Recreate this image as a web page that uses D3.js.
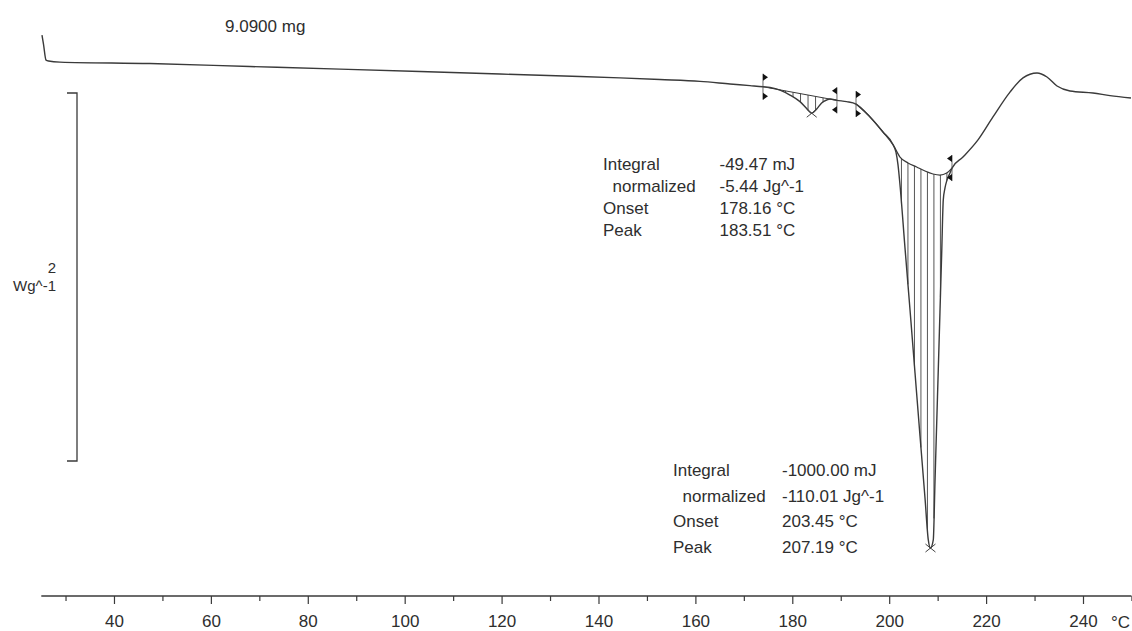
<!DOCTYPE html>
<html><head><meta charset="utf-8">
<script src="https://cdn.jsdelivr.net/npm/d3@7"></script>
<style>
body{margin:0;background:#fff}
svg{display:block;background:#fff}
text{font-family:"Liberation Sans",Arial,sans-serif;fill:#2e2e2e}
</style>
</head><body>
<svg id="chart" width="1132" height="631"></svg>
<script>
// ---- data (temperature in °C, heat flow in W/g, endo down) ----
const tempC = [25.14,25.45,25.98,26.50,28.85,47.43,68.07,86.65,103.16,119.67,136.18,144.44,152.69,160.95,167.14,171.27,173.95,175.40,177.46,179.53,181.59,183.24,184.01,185.04,186.06,187.10,187.78,189.22,191.23,193.15,196.04,198.72,200.84,201.40,201.82,202.23,203.26,204.30,205.33,206.36,207.39,208.07,208.52,209.10,209.45,209.80,210.13,210.48,210.83,211.16,211.52,211.93,212.55,212.96,215.23,218.33,221.42,224.93,227.62,230.51,232.57,234.64,237.32,242.06,245.57,249.90];
const heatFlow = [0.315,0.266,0.179,0.174,0.168,0.160,0.144,0.130,0.117,0.103,0.090,0.082,0.073,0.063,0.049,0.040,0.034,0.030,0.016,-0.011,-0.047,-0.092,-0.110,-0.087,-0.054,-0.038,-0.033,-0.040,-0.047,-0.060,-0.130,-0.212,-0.283,-0.321,-0.391,-0.500,-0.842,-1.179,-1.522,-1.864,-2.201,-2.429,-2.473,-2.429,-2.114,-1.799,-1.505,-1.190,-0.875,-0.582,-0.516,-0.473,-0.435,-0.408,-0.348,-0.255,-0.130,0.005,0.082,0.109,0.087,0.038,0.011,0.000,-0.014,-0.027];

// integration baselines
const smallBaseT = [173.95, 189.22];
const smallBaseV = [0.034, -0.040];
const bigBaseT = [193.15,196.04,198.72,200.84,202.23,203.88,205.67,207.39,209.04,210.48,211.87,212.96];
const bigBaseV = [-0.060,-0.130,-0.212,-0.283,-0.348,-0.380,-0.402,-0.424,-0.440,-0.446,-0.435,-0.408];

// integration limits and peak positions
const limitT = [173.95, 189.22, 193.15, 212.96];
const limitDir = [1, -1, 1, -1];
const peakT = [184.01, 208.52];
const peakV = [-0.110, -2.473];

// axis
const xMajor = [40,60,80,100,120,140,160,180,200,220,240];
const xMinor = [30,50,70,90,110,130,150,170,190,210,230,250];
const xUnit = "°C";
const scaleBarValue = 2;
const scaleBarUnit = "Wg^-1";
const sampleMass = "9.0900 mg";

const annotLabels = ["Integral", "normalized", "Onset", "Peak"];
const annot1Values = ["-49.47 mJ", "-5.44 Jg^-1", "178.16 °C", "183.51 °C"];
const annot2Values = ["-1000.00 mJ", "-110.01 Jg^-1", "203.45 °C", "207.19 °C"];

// ---- drawing ----
const svg = d3.select("#chart");
const x = d3.scaleLinear().domain([25, 250]).range([41.3, 1131.45]);
const y = d3.scaleLinear().domain([0, -2]).range([93, 461]);
const ink = "#3a3a3a";

function interp(ts, vs, t) {
  const i = Math.max(1, Math.min(ts.length - 1, d3.bisectLeft(ts, t)));
  const t0 = ts[i-1], t1 = ts[i];
  const f = (t - t0) / (t1 - t0);
  return vs[i-1] + f * (vs[i] - vs[i-1]);
}

// hatching
function hatch(t0, t1, step, baseTs, baseVs) {
  const g = svg.append("g").attr("stroke", "#555").attr("stroke-width", 1);
  for (let t = t0 + step; t < t1; t += step) {
    const yc = y(interp(tempC, heatFlow, t));
    const yb = y(interp(baseTs, baseVs, t));
    if (Math.abs(yc - yb) > 1.5) {
      g.append("line").attr("x1", x(t)).attr("x2", x(t)).attr("y1", yb).attr("y2", yc);
    }
  }
}
hatch(smallBaseT[0], smallBaseT[1], 1.55, smallBaseT, smallBaseV);
hatch(bigBaseT[0], bigBaseT[bigBaseT.length-1], 1.34, bigBaseT, bigBaseV);

// baselines
svg.append("path")
  .attr("d", d3.line()(smallBaseT.map((t,i) => [x(t), y(smallBaseV[i])])))
  .attr("fill", "none").attr("stroke", ink).attr("stroke-width", 1);
svg.append("path")
  .attr("d", d3.line().curve(d3.curveMonotoneX)(bigBaseT.map((t,i) => [x(t), y(bigBaseV[i])])))
  .attr("fill", "none").attr("stroke", ink).attr("stroke-width", 1.2);

// main curve
svg.append("path")
  .attr("d", d3.line().curve(d3.curveMonotoneX)(tempC.map((t,i) => [x(t), y(heatFlow[i])])))
  .attr("fill", "none").attr("stroke", ink).attr("stroke-width", 1.4).attr("stroke-linejoin", "round");

// limit markers
limitT.forEach((t, i) => {
  const cx = x(t), cy = y(interp(tempC, heatFlow, t));
  const d = limitDir[i];
  const g = svg.append("g").attr("fill", "#111").attr("stroke", "none");
  g.append("line").attr("x1", cx).attr("x2", cx).attr("y1", cy - 13).attr("y2", cy + 13)
    .attr("stroke", "#444").attr("stroke-width", 0.8);
  [[cy - 13, cy - 6], [cy + 6, cy + 13]].forEach(([a, b]) => {
    g.append("path").attr("d", `M${cx},${a}L${cx + 5*d},${(a+b)/2}L${cx},${b}Z`);
  });
});

// peak crosses
peakT.forEach((t, i) => {
  const cx = x(t), cy = y(peakV[i]);
  svg.append("path").attr("d", `M${cx-5},${cy-4}L${cx+5},${cy+4}M${cx-5},${cy+4}L${cx+5},${cy-4}`)
    .attr("stroke", "#444").attr("stroke-width", 1).attr("fill", "none");
});

// x axis
const axisY = 596;
svg.append("line").attr("x1", x(25)).attr("x2", x(250)).attr("y1", axisY).attr("y2", axisY)
  .attr("stroke", ink).attr("stroke-width", 1.3);
const axisG = svg.append("g").attr("transform", `translate(0,${axisY})`);
axisG.call(d3.axisBottom(x).tickValues(xMajor).tickSize(8).tickSizeOuter(0).tickFormat(d3.format("d")));
axisG.select(".domain").remove();
axisG.selectAll(".tick line").attr("stroke", ink).attr("stroke-width", 1.2);
axisG.selectAll(".tick text").attr("y", 19).attr("dy", "0.71em")
  .style("font-size", "17px").style("font-family", '"Liberation Sans",Arial,sans-serif').attr("fill", "#2e2e2e");
const minorG = svg.append("g").attr("transform", `translate(0,${axisY})`);
minorG.call(d3.axisBottom(x).tickValues(xMinor).tickSize(5).tickSizeOuter(0).tickFormat(""));
minorG.select(".domain").remove();
minorG.selectAll(".tick line").attr("stroke", ink).attr("stroke-width", 1.2);
svg.append("text").attr("x", 1130).attr("y", 627.5).attr("text-anchor", "end")
  .style("font-size", "17px").text(xUnit);

// scale bar
const sb0 = 0, sb1 = sb0 - scaleBarValue;
svg.append("path")
  .attr("d", `M67,${y(sb0)}H77V${y(sb1)}H67`)
  .attr("fill", "none").attr("stroke", ink).attr("stroke-width", 1.3);
svg.append("text").attr("x", 56).attr("y", 273).attr("text-anchor", "end")
  .style("font-size", "15px").text(scaleBarValue);
svg.append("text").attr("x", 56).attr("y", 291).attr("text-anchor", "end")
  .style("font-size", "15px").text(scaleBarUnit);

// sample mass
svg.append("text").attr("x", 225).attr("y", 32).style("font-size", "17px").text(sampleMass);

// annotation blocks
function block(lx, vx, y0, dy, values) {
  annotLabels.forEach((l, i) => {
    svg.append("text").attr("x", lx + (i === 1 ? 9.5 : 0)).attr("y", y0 + i*dy)
      .style("font-size", "17px").text(l);
    svg.append("text").attr("x", vx).attr("y", y0 + i*dy)
      .style("font-size", "17px").text(values[i]);
  });
}
block(603, 719.5, 170, 22, annot1Values);
block(673, 782, 476, 25.5, annot2Values);
</script>
</body></html>
